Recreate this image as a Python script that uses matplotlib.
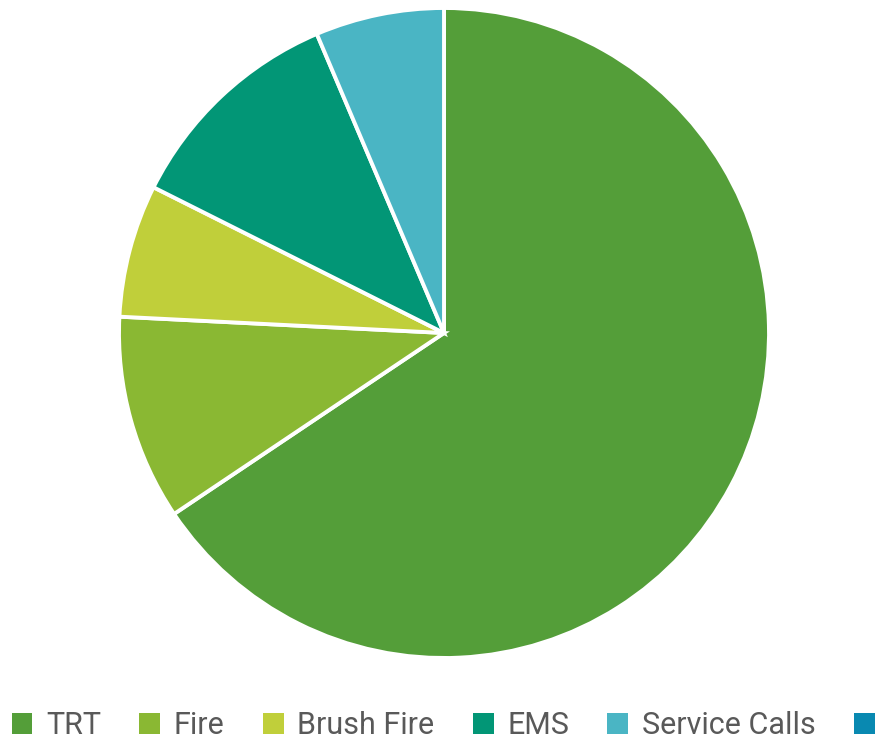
import matplotlib.pyplot as plt
from matplotlib.patches import Patch

categories = ["TRT", "Fire", "Brush Fire", "EMS", "Service Calls", ""]
shares = [65.6, 10.2, 6.6, 11.2, 6.4, 0.0]
colors = ["#549E39", "#8AB833", "#C0CF3A", "#029676", "#4AB5C4", "#0989B1"]

plt.rcParams['font.family'] = ['Roboto', 'DejaVu Sans']

fig = plt.figure(figsize=(8.87, 7.44), dpi=100)
W, H = 887, 744
cx, cy, r = 444, 333, 325
ax = fig.add_axes([(cx - r) / W, (H - cy - r) / H, 2 * r / W, 2 * r / H])

vals = [v for v in shares if v > 0]
cols = [c for v, c in zip(shares, colors) if v > 0]
ax.pie(vals, colors=cols, startangle=90, counterclock=False, radius=1,
       wedgeprops=dict(edgecolor="white", linewidth=2.8))
ax.set_xlim(-1, 1)
ax.set_ylim(-1, 1)
ax.set_aspect("equal")
ax.axis("off")

handles = [Patch(facecolor=c, edgecolor="none") for c in colors]
fig.legend(handles, categories, loc="center", bbox_to_anchor=(450 / W, 1 - 726 / H),
           ncol=6, frameon=False, fontsize=22, labelcolor="#595959",
           handlelength=0.68, handleheight=0.68, handletextpad=0.45,
           columnspacing=1.25, borderaxespad=0, borderpad=0)

fig.savefig("out.png", dpi=100)
